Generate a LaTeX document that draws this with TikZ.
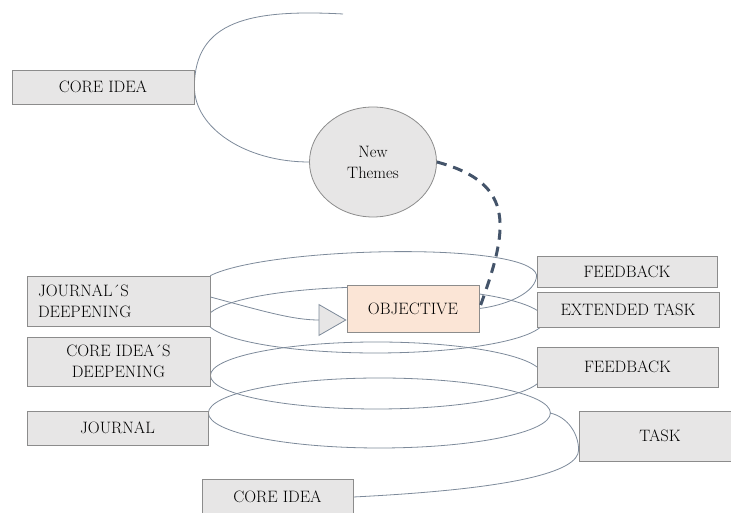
\documentclass[tikz,border=0pt]{standalone}
\usetikzlibrary{shapes.geometric,arrows.meta,backgrounds}
\definecolor{boxfill}{HTML}{E7E6E6}
\definecolor{boxline}{HTML}{8C8C8C}
\definecolor{objfill}{HTML}{FBE5D6}
\definecolor{spiral}{HTML}{7D8A9A}
\definecolor{themeline}{HTML}{44546A}
\begin{document}
\begin{tikzpicture}[x=1pt,y=1pt,
	box/.style={draw=boxline,fill=boxfill,line width=0.8pt,inner sep=0pt,align=center,font=\rmfamily\fontsize{16.5}{21}\selectfont},
	loop/.style={draw=spiral,line width=0.8pt}]
	\clip[use as bounding box] (0,0) rectangle (731,513);
	% boxes
	\node[box,minimum width=182pt,minimum height=34pt] (core1) at (103,426) {CORE IDEA};
	\node[box,ellipse,minimum width=127pt,minimum height=110pt] (themes) at (373,351) {New\\Themes};
	\node[box,minimum width=183pt,minimum height=50pt,text width=161pt,align=left] (jd) at (118.5,212) {JOURNAL´S\\DEEPENING};
	\node[box,minimum width=183pt,minimum height=49pt] (cid) at (118.5,151.5) {CORE IDEA´S\\DEEPENING};
	\node[box,minimum width=181pt,minimum height=34pt] (journal) at (117.5,85) {JOURNAL};
	\node[box,minimum width=151pt,minimum height=36pt] (core2) at (277.5,16) {CORE IDEA};
	\node[box,fill=objfill,minimum width=132pt,minimum height=47pt] (obj) at (413,204.5) {OBJECTIVE};
	\node[box,minimum width=180pt,minimum height=31pt] (fb1) at (627,241.5) {FEEDBACK};
	\node[box,minimum width=182pt,minimum height=35pt] (ext) at (628,203.5) {EXTENDED TASK};
	\node[box,minimum width=181pt,minimum height=40pt] (fb2) at (627.5,146) {FEEDBACK};
	\node[box,minimum width=162pt,minimum height=50pt] (task) at (660,77) {TASK};
	\coordinate (topend) at (343,499);
	\coordinate (tipD) at (550,100);
	\coordinate (tipA) at ([yshift=-3.5pt]fb1.west);
	% spiral
	\begin{scope}[on background layer]
		\draw[loop] (themes.west) .. controls +(-63.5,0) and +(0,-41) .. (core1.east)
			.. controls +(0,66) and +(-93,5) .. (topend);
		\draw[loop] (jd.north east) .. controls +(58,29) and +(-8,34) .. (tipA)
			.. controls +(0,-18) and +(26,3) .. (obj.east);
		\draw[loop] ([xshift=-4pt,yshift=-19pt]jd.east) arc[start angle=180,end angle=-180,x radius=169,y radius=33];
		\draw[loop] ([yshift=-14pt]cid.east) arc[start angle=180,end angle=-180,x radius=166,y radius=33.5];
		\draw[loop] ([yshift=15pt]journal.east) arc[start angle=180,end angle=-180,x radius=171,y radius=35];
		\draw[loop] (core2.east) .. controls +(160,8) and +(0,-22) .. ([yshift=-14pt]task.west)
			.. controls +(0,16) and +(18,-4) .. (tipD);
	\end{scope}
	\draw[loop,-{Triangle[length=28pt,width=32pt,fill=boxfill]}] ([yshift=4pt]jd.east) to[out=-15,in=180] ([yshift=-11.5pt]obj.west);
	\draw[themeline,line width=3pt,dash pattern=on 10pt off 7pt] (themes.east) to[out=-15,in=70,looseness=1.4] (obj.east);
\end{tikzpicture}
\end{document}
